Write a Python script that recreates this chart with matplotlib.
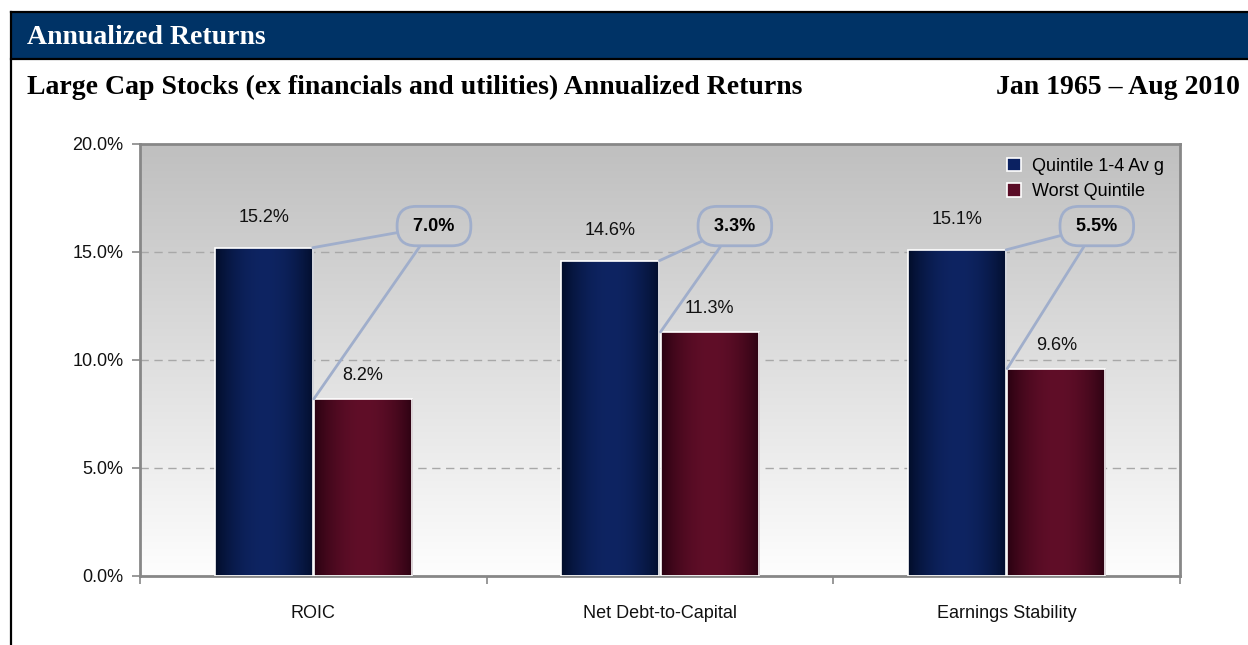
import numpy as np
import matplotlib
matplotlib.use("Agg")
import matplotlib.pyplot as plt
from matplotlib.patches import Rectangle, Patch
from matplotlib.lines import Line2D

# data
categories = ["ROIC", "Net Debt-to-Capital", "Earnings Stability"]
quintile_avg = [15.2, 14.6, 15.1]
worst_quintile = [8.2, 11.3, 9.6]
spread = [7.0, 3.3, 5.5]
series_names = ["Quintile 1-4 Av g", "Worst Quintile"]
y_ticks = [0, 5, 10, 15, 20]

header = "Annualized Returns"
subtitle = "Large Cap Stocks (ex financials and utilities) Annualized Returns"
period = "Jan 1965 \u2013 Aug 2010"

# where the spread bubbles sit (x offset from group centre, y in data units)
bubble_dx = [0.348, 0.216, 0.26]
bubble_y = 16.2

W, H = 1248, 645
sans = ["Liberation Sans Narrow", "Liberation Sans", "DejaVu Sans"]
serif = ["Liberation Serif", "DejaVu Serif"]

fig = plt.figure(figsize=(W / 100, H / 100), dpi=100)
fig.patch.set_facecolor("white")

def fx(px):
    return px / W

def fy(py):
    return 1 - py / H

# header band and frame lines
fig.patches.append(Rectangle((fx(11), fy(59)), fx(W - 11), (59 - 12) / H,
                             transform=fig.transFigure, facecolor="#003366",
                             edgecolor="none", zorder=0))
fig.add_artist(Line2D([fx(11), 1], [fy(12), fy(12)], color="black", lw=1.6, transform=fig.transFigure))
fig.add_artist(Line2D([fx(11), 1], [fy(59), fy(59)], color="black", lw=1.6, transform=fig.transFigure))
fig.add_artist(Line2D([fx(11), fx(11)], [fy(12), 0], color="black", lw=1.6, transform=fig.transFigure))

fig.text(fx(27), fy(37), header, color="white", fontsize=20, fontweight="bold",
         family=serif, va="center", ha="left")
fig.text(fx(27), fy(87), subtitle, color="black", fontsize=20, fontweight="bold",
         family=serif, va="center", ha="left")
fig.text(fx(1240), fy(87), period, color="black", fontsize=20, fontweight="bold",
         family=serif, va="center", ha="right")

# axes
ax = fig.add_axes([fx(140), fy(576), fx(1180 - 140), (576 - 144) / H])
ax.set_xlim(0, 3)
ax.set_ylim(0, 20)

# vertical gray -> white background
bg = np.linspace(0.995, 0.75, 256).reshape(-1, 1)
bg = np.dstack([bg, bg, bg])
ax.imshow(bg, extent=(0, 3, 0, 20), aspect="auto", origin="lower", zorder=0)

for yv in [5, 10, 15]:
    ax.axhline(yv, color="#a8a8a8", lw=1, ls=(0, (6, 4)), zorder=1)

centers = np.arange(len(categories)) + 0.5
bw = 0.283
off = 0.143

t = np.linspace(0, 1, 200)
prof = np.clip(np.sin(np.pi * (t * 0.95 + 0.02)), 0, 1) ** 0.8

def grad(dark, light):
    dark = np.array(dark) / 255
    light = np.array(light) / 255
    g = dark[None, :] + (light - dark)[None, :] * prof[:, None]
    return g[None, :, :]

navy_img = grad((0, 10, 34), (14, 36, 98))
maroon_img = grad((34, 0, 14), (96, 14, 40))

for vals, sgn, img in [(quintile_avg, -1, navy_img), (worst_quintile, 1, maroon_img)]:
    bars = ax.bar(centers + sgn * off, vals, width=bw, facecolor="none",
                  edgecolor="white", lw=1.2, zorder=3)
    for b in bars:
        x0, w, h = b.get_x(), b.get_width(), b.get_height()
        im = ax.imshow(img, extent=(x0, x0 + w, 0, h), aspect="auto", zorder=2)
        im.set_clip_path(b)

for c, v in zip(centers, quintile_avg):
    ax.annotate(f"{v:.1f}%", (c - off, v), xytext=(0, 22), textcoords="offset points",
                ha="center", va="center", fontsize=13, family=sans, color="#111111")
for c, v in zip(centers, worst_quintile):
    ax.annotate(f"{v:.1f}%", (c + off, v), xytext=(0, 17), textcoords="offset points",
                ha="center", va="center", fontsize=13, family=sans, color="#111111")

# spread bubbles with leader lines (lines drawn after the bubble so they clip to it)
line_col = "#a0aecb"
for c, q, wq, s, dx in zip(centers, quintile_avg, worst_quintile, spread, bubble_dx):
    bx = c + dx
    txt = ax.text(bx, bubble_y, f" {s:.1f}% ", ha="center", va="center", fontsize=13,
                  fontweight="bold", family=sans, zorder=5,
                  bbox=dict(boxstyle="round,pad=0.62,rounding_size=1.05", fc="none",
                            ec=line_col, lw=2))
    for pt in [(c - off + bw / 2, q), (c + off - bw / 2, wq)]:
        ax.annotate("", xy=pt, xytext=(bx, bubble_y),
                    arrowprops=dict(arrowstyle="-", color=line_col, lw=2,
                                    shrinkA=0, shrinkB=0, patchA=txt.get_bbox_patch()),
                    zorder=6)

# axes styling
for sp in ax.spines.values():
    sp.set_color("#878787")
    sp.set_linewidth(2)
ax.set_yticks(y_ticks)
ax.set_yticklabels([f"{v:.1f}%" for v in y_ticks])
ax.set_xticks([0, 1, 2, 3])
ax.set_xticklabels([])
ax.set_xticks(centers, minor=True)
ax.set_xticklabels(categories, minor=True)
ax.tick_params(axis="y", direction="out", length=6, width=1.2, color="#878787",
               pad=6, labelsize=13)
ax.tick_params(axis="x", which="major", direction="out", length=6, width=1.2, color="#878787")
ax.tick_params(axis="x", which="minor", length=0, pad=21, labelsize=13)
for lab in ax.get_yticklabels() + ax.get_xticklabels(minor=True):
    lab.set_family(sans)
    lab.set_color("#111111")

handles = [Patch(facecolor="#0b2161", edgecolor="white", lw=1.2),
           Patch(facecolor="#5a0c26", edgecolor="white", lw=1.2)]
leg = ax.legend(handles, series_names, loc="upper right", bbox_to_anchor=(1.0, 1.005),
                frameon=False, handlelength=0.75, handleheight=0.75, handletextpad=0.6,
                labelspacing=0.45, prop=dict(family=sans, size=13))

fig.savefig("out.png", dpi=100)
